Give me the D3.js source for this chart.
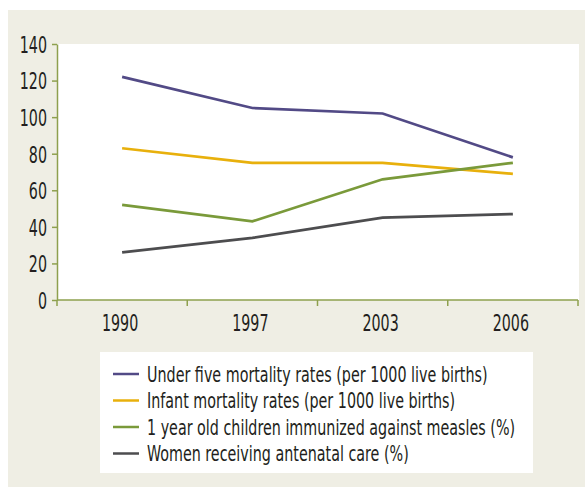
<!DOCTYPE html>
<html>
<head>
<meta charset="utf-8">
<script src="https://cdn.jsdelivr.net/npm/d3@7"></script>
<style>
  body { margin: 0; background: #fff; }
  text { font-family: "DejaVu Sans Condensed", "DejaVu Sans", sans-serif; fill: #231f20; }
</style>
</head>
<body>
<div id="viz"></div>
<script>
const years = ["1990", "1997", "2003", "2006"]
const yTicks = [0, 20, 40, 60, 80, 100, 120, 140]

const underFive = [122, 105, 102, 78]
const infant = [83, 75, 75, 69]
const measles = [52, 43, 66, 75]
const antenatal = [26, 34, 45, 47]

const seriesNames = [
  "Under five mortality rates (per 1000 live births)",
  "Infant mortality rates (per 1000 live births)",
  "1 year old children immunized against measles (%)",
  "Women receiving antenatal care (%)"
]
const colors = ["#524a86", "#e8b00c", "#7a9a3a", "#4d4d4f"]

const series = [underFive, infant, measles, antenatal]

const W = 585, H = 489
const squeeze = 0.69   // the original uses a very narrow face
const svg = d3.select("#viz").append("svg").attr("width", W).attr("height", H)

// beige panel
svg.append("rect").attr("x", 8).attr("y", 10).attr("width", W - 8).attr("height", 477).attr("fill", "#efeee4")

const plotL = 57, plotR = 579, plotT = 44, plotB = 300
svg.append("rect").attr("x", plotL).attr("y", plotT).attr("width", plotR - plotL).attr("height", plotB - plotT).attr("fill", "#fff")

const x = d3.scaleBand().domain(years).range([plotL, 578])
const y = d3.scaleLinear().domain([0, 140]).range([plotB, plotT])

const axisColor = "#8ea04e"

// y axis
const yAxis = svg.append("g")
  .attr("transform", `translate(${plotL},0)`)
  .call(d3.axisLeft(y).tickValues(yTicks).tickSize(5).tickPadding(5).tickSizeOuter(0))
yAxis.select(".domain").attr("stroke", axisColor).attr("stroke-width", 1.5)
yAxis.selectAll(".tick line").attr("stroke", axisColor).attr("stroke-width", 1.5)
yAxis.selectAll(".tick text")
  .attr("font-size", 23).attr("fill", "#231f20").attr("dy", "0.36em")
  .attr("x", 0).attr("transform", `translate(-10,0) scale(${squeeze},1)`)

// x axis: ticks at band boundaries
const xAxisG = svg.append("g").attr("transform", `translate(0,${plotB})`)
xAxisG.append("line").attr("x1", plotL).attr("x2", 578).attr("y1", 0).attr("y2", 0)
  .attr("stroke", axisColor).attr("stroke-width", 1.5)
const bounds = years.map(d => x(d)).concat([x(years[years.length - 1]) + x.bandwidth()])
xAxisG.selectAll(".xt").data(bounds).enter().append("line")
  .attr("x1", d => d).attr("x2", d => d).attr("y1", 0).attr("y2", 6)
  .attr("stroke", axisColor).attr("stroke-width", 1.5)
xAxisG.selectAll(".xl").data(years).enter().append("text")
  .attr("transform", d => `translate(${x(d) + x.bandwidth() / 2 - 2},31) scale(${squeeze},1)`)
  .attr("text-anchor", "middle")
  .attr("font-size", 23)
  .text(d => d)

const line = d3.line()
  .x((d, i) => x(years[i]) + x.bandwidth() / 2)
  .y(d => y(d))

svg.selectAll(".series").data(series).enter().append("path")
  .attr("d", d => line(d))
  .attr("fill", "none")
  .attr("stroke", (d, i) => colors[i])
  .attr("stroke-width", 2.7)

// legend
const lg = svg.append("g")
lg.append("rect").attr("x", 100).attr("y", 352).attr("width", 433).attr("height", 121).attr("fill", "#fff")
const rows = lg.selectAll(".row").data(seriesNames).enter().append("g")
  .attr("transform", (d, i) => `translate(113,${374 + i * 26.5})`)
rows.append("line").attr("x1", 0).attr("x2", 26).attr("stroke", (d, i) => colors[i]).attr("stroke-width", 2.5)
rows.append("text")
  .attr("transform", `translate(34,0) scale(0.74,1)`)
  .attr("dy", "0.36em").attr("font-size", 21.5).text(d => d)
</script>
</body>
</html>
